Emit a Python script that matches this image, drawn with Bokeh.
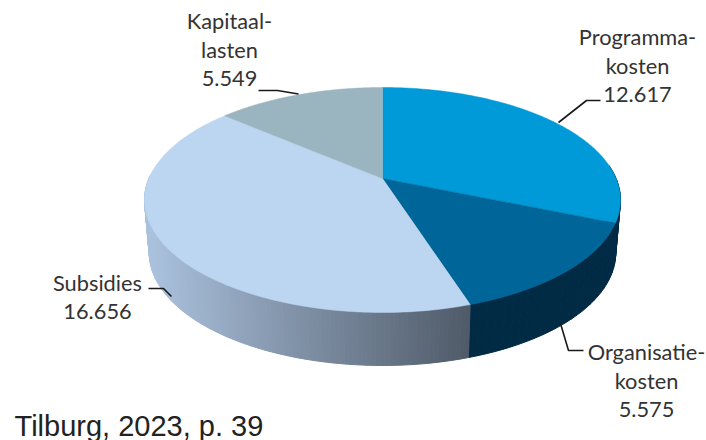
import math
from bokeh.plotting import figure
from bokeh.embed import file_html
from bokeh.resources import INLINE
from bokeh.core.properties import value

names = ["Programma-\nkosten", "Organisatie-\nkosten", "Subsidies", "Kapitaal-\nlasten"]
amounts = [12617, 5575, 16656, 5549]
top_colors = ["#009ad9", "#006699", "#bcd5f1", "#9ab5bf"]
label_pos = [(637, 36), (646, 351), (97, 282), (229, 20)]
leaders = [
    [(558, 122), (586, 100), (600, 100)],
    [(560, 323), (568, 350), (583, 350)],
    [(148, 288), (163, 288), (171, 296)],
    [(258, 90), (277, 90), (298, 93.5)],
]
caption = "Tilburg, 2023, p. 39"

CX, CY, A, B, K = 382.0, 178.0, 233.6, 108.4, 0.191
DEPTH, SHRINK = 53.0, 0.98


def rim(t, depth=0.0, sx=1.0):
    u, v = math.sin(t), math.cos(t)
    w = 1 + K * v
    return CX + sx * A * u / w, CY - B * v / w + depth


def mix(c1, c2, f):
    return "#%02x%02x%02x" % tuple(round(a + (b - a) * f) for a, b in zip(c1, c2))


total = sum(amounts)
edges = [0.0]
for a in amounts:
    edges.append(edges[-1] + a / total * 2 * math.pi)

p = figure(width=706, height=440, x_range=(0, 706), y_range=(440, 0),
           toolbar_location=None, output_backend="svg",
           min_border=0, outline_line_color=None)
p.axis.visible = False
p.grid.visible = False

# side wall: Organisatie part (solid dark), Subsidies part (gradient)
wall_start = edges[0] + 1.45
wall_end = math.radians(272)


def quad(t0, t1):
    a0, a1 = rim(t0), rim(t1)
    b1, b0 = rim(t1, DEPTH, SHRINK), rim(t0, DEPTH, SHRINK)
    return [a0[0], a1[0], b1[0], b0[0]], [a0[1], a1[1], b1[1], b0[1]]


n = 40
xs, ys, cols = [], [], []
for i in range(n):
    t0 = wall_start + (edges[2] - wall_start) * i / n
    t1 = wall_start + (edges[2] - wall_start) * (i + 1) / n
    qx, qy = quad(t0, t1)
    xs.append(qx); ys.append(qy); cols.append("#012b45")
n = 120
for i in range(n):
    t0 = edges[2] + (wall_end - edges[2]) * i / n
    t1 = edges[2] + (wall_end - edges[2]) * (i + 1) / n
    qx, qy = quad(t0, t1)
    f = (rim(edges[2])[0] - qx[0]) / (rim(edges[2])[0] - 146)
    xs.append(qx); ys.append(qy); cols.append(mix((0x50, 0x5b, 0x69), (0xab, 0xc2, 0xde), min(1, max(0, f))))
p.patches(xs, ys, fill_color=cols, line_color=cols, line_width=1)

# top face
for i in range(len(amounts)):
    steps = 160
    pts = [rim(edges[i] + (edges[i + 1] - edges[i]) * j / steps) for j in range(steps + 1)]
    px = [CX] + [q[0] for q in pts]
    py = [CY] + [q[1] for q in pts]
    p.patch(px, py, fill_color=top_colors[i], line_color=top_colors[i], line_width=0.5)

for seg in leaders:
    p.line([q[0] for q in seg], [q[1] for q in seg], line_color="#1a1a1a", line_width=1.6)

for name, amt, (lx, ly) in zip(names, amounts, label_pos):
    lines = name.split("\n") + [f"{amt:,}".replace(",", ".")]
    for k, line in enumerate(lines):
        p.text([lx], [ly + k * 29], text=[line], text_font=value("Lato"),
               text_font_size="21.8px", text_color="#333333",
               text_align="center", text_baseline="middle")

p.text([14], [425], text=[caption], text_font=value("Liberation Sans"),
       text_font_size="29px", text_color="#222222",
       text_align="left", text_baseline="middle")

open("out.html", "w").write(file_html(p, INLINE))
